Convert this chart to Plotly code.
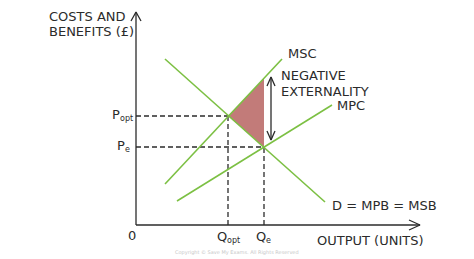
import numpy as np
import plotly.graph_objects as go

# ---- data (conceptual diagram units: quantity on x, price on y) ----
d_x = [29, 189]
d_y = [166, 23]
msc_x = [29, 146]
msc_y = [41, 166]
mpc_x = [41, 196]
mpc_y = [24, 120]
q_opt, p_opt = 92, 109
q_e, p_e = 128, 78
y_axis_top = 213
x_axis_end = 284
ext_arrow_x = 135
ext_arrow_range = [85, 148]

GREEN = "#7cc043"
FILL = "#c27b79"
INK = "#2b2b2b"
FONT = "DejaVu Sans"
HEAD_L, HEAD_W = 9, 5  # arrowhead length / half-width (diagram units)

msc_at_qe = float(np.interp(q_e, msc_x, msc_y))

fig = go.Figure()

def line(xs, ys, **kw):
    fig.add_trace(go.Scatter(x=xs, y=ys, mode="lines", line=kw,
                             hoverinfo="skip", showlegend=False))

# welfare loss triangle
fig.add_trace(go.Scatter(
    x=[q_opt, q_e, q_e, q_opt], y=[p_opt, msc_at_qe, p_e, p_opt],
    fill="toself", fillcolor=FILL, line=dict(width=0), mode="lines",
    hoverinfo="skip", showlegend=False))

# dashed guide lines
dash = dict(color=INK, width=1.3, dash="5px,3px")
for (xs, ys) in [([0, q_opt], [p_opt, p_opt]), ([0, q_e], [p_e, p_e]),
                 ([q_opt, q_opt], [0, p_opt]), ([q_e, q_e], [0, p_e])]:
    line(xs, ys, **dash)

# curves
for xs, ys in [(d_x, d_y), (msc_x, msc_y), (mpc_x, mpc_y)]:
    line(xs, ys, color=GREEN, width=1.6)

# axes with open chevron heads
ax_style = dict(color=INK, width=1.3)
line([0, 0], [0, y_axis_top], **ax_style)
line([-HEAD_W, 0, HEAD_W], [y_axis_top - HEAD_L, y_axis_top, y_axis_top - HEAD_L], **ax_style)
line([0, x_axis_end], [0, 0], **ax_style)
line([x_axis_end - HEAD_L - 2, x_axis_end, x_axis_end - HEAD_L - 2], [HEAD_W, 0, -HEAD_W], **ax_style)

# externality double arrow
lo, hi = ext_arrow_range
line([ext_arrow_x, ext_arrow_x], [lo, hi], **ax_style)
line([ext_arrow_x - 4, ext_arrow_x, ext_arrow_x + 4], [hi - HEAD_L, hi, hi - HEAD_L], **ax_style)
line([ext_arrow_x - 4, ext_arrow_x, ext_arrow_x + 4], [lo + HEAD_L, lo, lo + HEAD_L], **ax_style)

ann = []

def label(text, x, y, xanchor="left", size=13, color=INK, pad=1):
    ann.append(dict(x=x, y=y, xref="x", yref="y", text=text, showarrow=False,
                    xanchor=xanchor, yanchor="middle", borderpad=pad, borderwidth=0,
                    font=dict(family=FONT, size=size, color=color)))

def sublabel(main, sub, x_split, y):
    # main letter ends at x_split, subscript starts there and sits lower
    label(main, x_split, y, xanchor="right", pad=0)
    label(sub, x_split, y - 4, xanchor="left", size=8, pad=0)

label("COSTS AND", -88, 209)
label("BENEFITS (£)", -88, 194)
label("MSC", 151, 172)
label("NEGATIVE", 144, 150)
label("EXTERNALITY", 144, 134)
label("MPC", 200, 120)
label("D = MPB = MSB", 195, 20)
label("OUTPUT (UNITS)", 180, -15)
label("0", -4, -10, xanchor="center")
sublabel("Q", "opt", q_opt - 1, -11)
sublabel("Q", "e", q_e + 2, -11)
sublabel("P", "opt", -16, p_opt + 2)
sublabel("P", "e", -11, p_e + 2)
label("Copyright © Save My Exams. All Rights Reserved", 101, -27, xanchor="center",
      size=5, color="#c8c8c8")

fig.update_layout(
    width=474, height=259, margin=dict(l=0, r=0, t=0, b=0),
    paper_bgcolor="white", plot_bgcolor="white",
    xaxis=dict(range=[-136, 338], visible=False, fixedrange=True),
    yaxis=dict(range=[-34, 225], visible=False, fixedrange=True),
    annotations=ann, showlegend=False,
)

fig.write_html("out.html")
